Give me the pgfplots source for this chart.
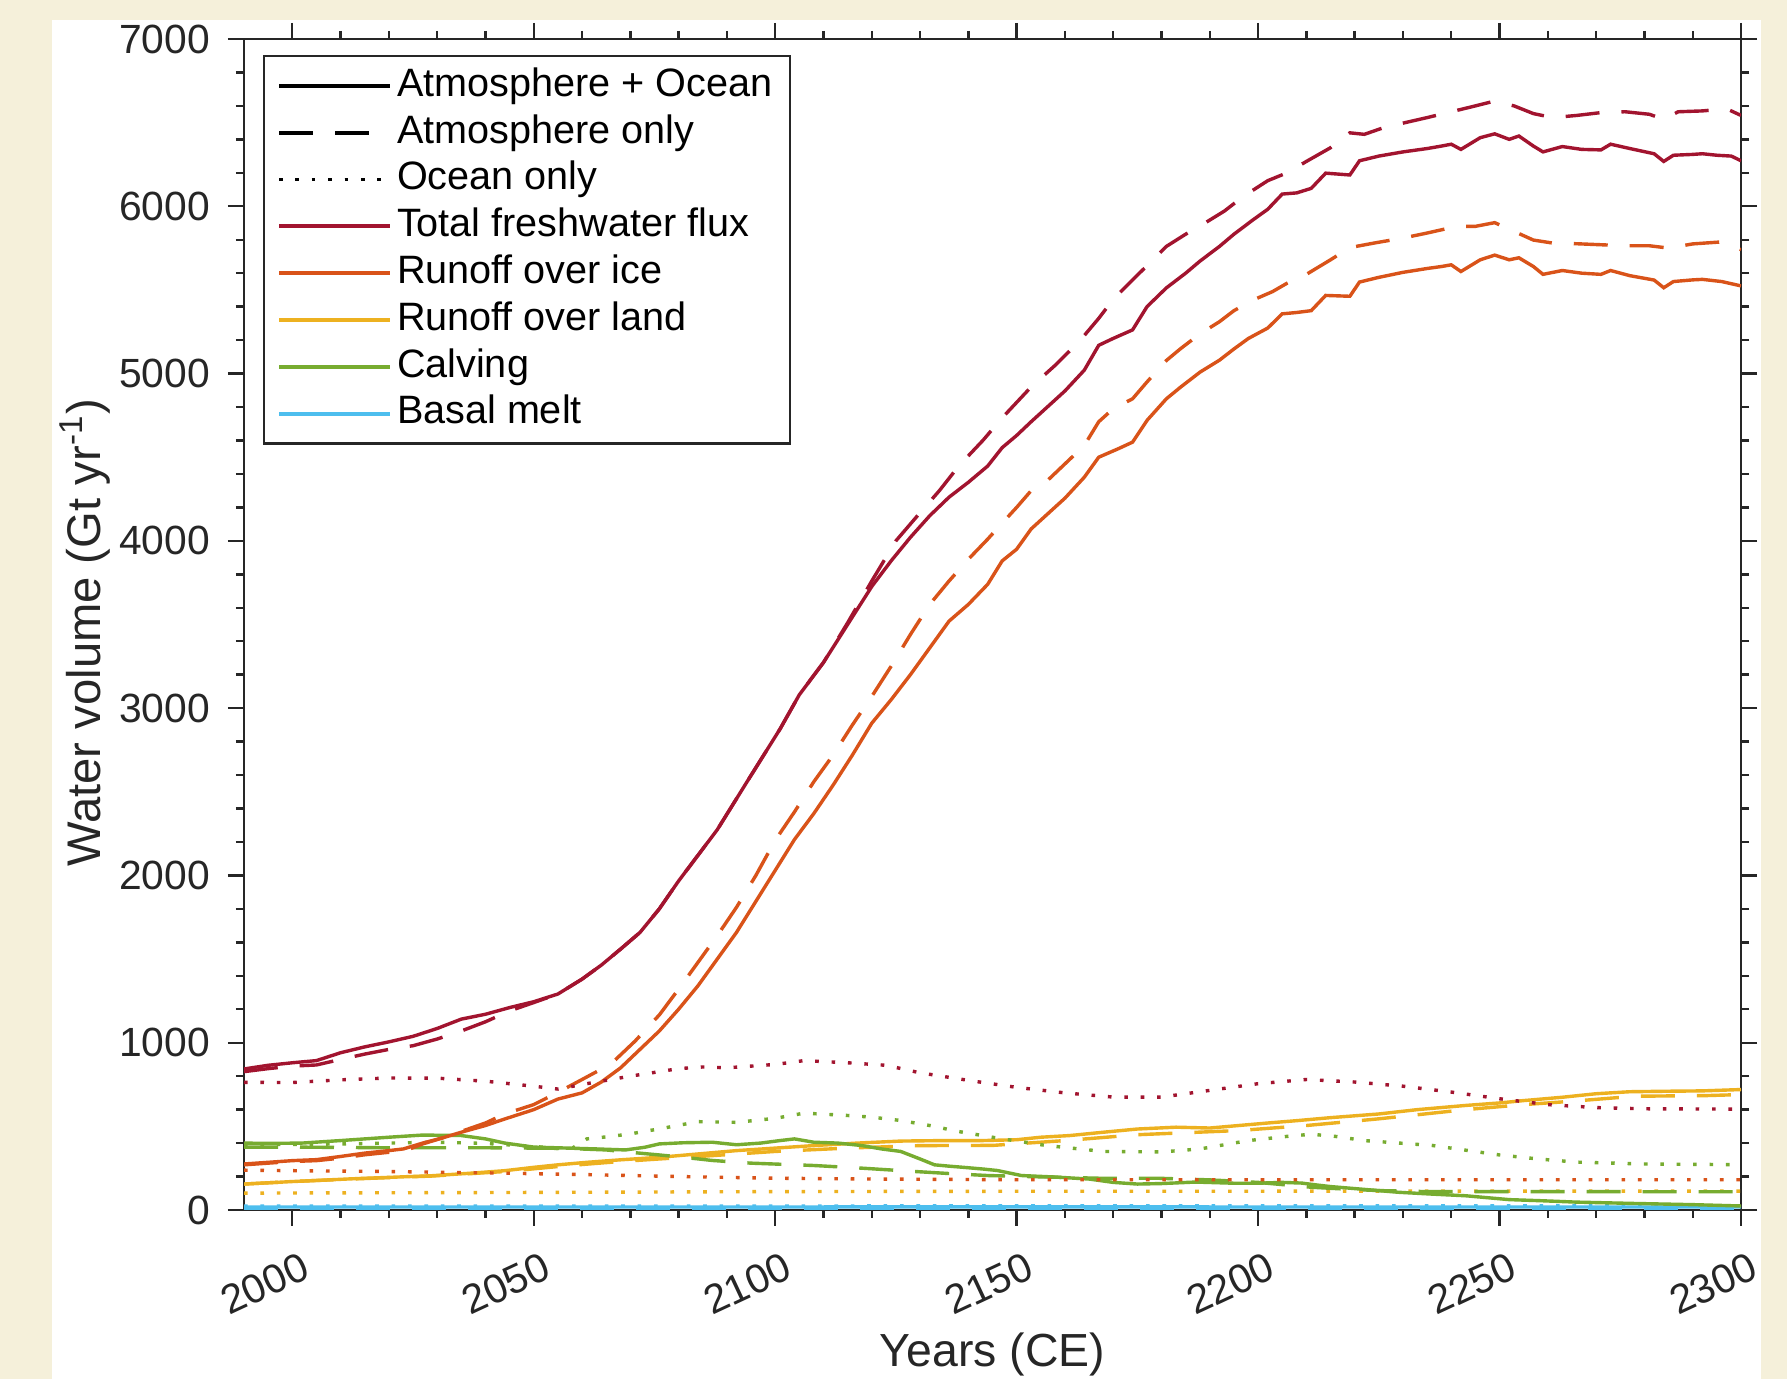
\documentclass[border=0pt]{standalone}
\usepackage{pgfplots}
\pgfplotsset{compat=1.18}
\usepackage{fontspec}
\setmainfont{Liberation Sans}
\definecolor{cream}{RGB}{245,240,218}
\definecolor{axgray}{RGB}{38,38,38}
\definecolor{cTot}{RGB}{162,20,47}
\definecolor{cIce}{RGB}{217,83,25}
\definecolor{cLand}{RGB}{237,177,32}
\definecolor{cCalv}{RGB}{119,172,48}
\definecolor{cBas}{RGB}{77,190,238}
\begin{document}
\begin{tikzpicture}
\fill[cream] (0,0) rectangle (446.75pt,344.75pt);
\fill[white] (13pt,0) rectangle (440.25pt,339.75pt);
\begin{axis}[
  at={(61pt,42.25pt)}, anchor=south west,
  width=374.25pt, height=292.75pt, scale only axis,
  xmin=1990, xmax=2300, ymin=0, ymax=7000,
  xtick={2000,2050,...,2300}, ytick={0,1000,...,7000},
  minor x tick num=4, minor y tick num=4,
  tick align=outside, major tick length=4pt, minor tick length=2pt,
  axis line style={axgray, line width=0.6pt},
  every tick/.style={axgray, line width=0.6pt},
  /pgf/number format/set thousands separator={},
  /pgf/number format/assume math mode=true,
  ticklabel style={font=\fontsize{10.2}{11}\selectfont, text=axgray},
  xticklabel style={rotate=25, anchor=north east, xshift=2.5pt, yshift=-3pt},
  yticklabel style={xshift=-1pt},
  xlabel={Years (CE)}, ylabel={Water volume (Gt yr\textsuperscript{-1})},
  every axis x label/.style={at={(axis description cs:0.5,-0.123)}, anchor=center,
    font=\fontsize{11.6}{13}\selectfont, text=axgray},
  every axis y label/.style={at={(axis description cs:-0.1062,0.493)}, rotate=90, anchor=center,
    font=\fontsize{11.8}{13}\selectfont, text=axgray},
  legend cell align=left,
  legend image code/.code={\draw[#1] (0pt,0pt) -- (26.5pt,0pt); \path (0pt,0pt) -- (27.8pt,0pt);},
  legend style={at={(0.0127,0.9863)}, anchor=north west, draw=axgray, line width=0.6pt,
    font=\fontsize{9.9}{11}\selectfont, inner xsep=3.2pt, inner ysep=1.6pt, row sep=0pt,
    nodes={inner sep=1.2pt, text height=7.2pt, text depth=2.1pt}},
  every axis plot/.append style={line width=0.85pt},
]
\addlegendimage{black, solid, line width=0.85pt}
\addlegendentry{Atmosphere + Ocean}
\addlegendimage{black, dash pattern=on 8.5pt off 5.5pt, line width=0.85pt}
\addlegendentry{Atmosphere only}
\addlegendimage{black, dash pattern=on 0.9pt off 3.2pt, line width=0.85pt}
\addlegendentry{Ocean only}
\addlegendimage{cTot, solid, line width=1pt}
\addlegendentry{Total freshwater flux}
\addlegendimage{cIce, solid, line width=1pt}
\addlegendentry{Runoff over ice}
\addlegendimage{cLand, solid, line width=1pt}
\addlegendentry{Runoff over land}
\addlegendimage{cCalv, solid, line width=1pt}
\addlegendentry{Calving}
\addlegendimage{cBas, solid, line width=1pt}
\addlegendentry{Basal melt}

% Basal melt
\addplot[cBas, forget plot] coordinates {(1990,18) (2050,18) (2100,18) (2150,19) (2200,18) (2250,18) (2300,18)};
\addplot[cBas, forget plot, dash pattern=on 8.5pt off 5.5pt] coordinates {(1990,8) (2100,8) (2200,8) (2300,8)};
\addplot[cBas, forget plot, dash pattern=on 0.9pt off 3.2pt] coordinates {(1990,24) (2100,24) (2200,25) (2300,24)};

% Runoff over land
\addplot[cLand, forget plot, dash pattern=on 0.9pt off 3.2pt] coordinates {(1990,101) (2050,105) (2100,110) (2150,112) (2300,113)};
\addplot[cLand, forget plot, dash pattern=on 8.5pt off 5.5pt] coordinates {
(1990,155) (2000,170) (2012,185) (2029,203) (2044,230) (2057,265) (2068,290) (2076,305) (2087,325) (2100,350) (2115,370) (2130,385) (2145,386) (2160,415) (2175,450) (2196,475) (2210,505) (2225,545) (2243,600) (2255,630) (2265,650) (2278,680) (2293,684) (2300,690)};
\addplot[cLand, forget plot] coordinates {
(1990,155) (2000,170) (2012,186) (2020,195) (2029,205) (2037,220) (2044,235) (2050,255) (2055,270) (2061,285) (2068,300) (2076,315) (2084,335) (2092,355) (2100,370) (2108,385) (2117,400) (2126,412) (2135,415) (2143,415) (2150,420) (2155,435) (2161,445) (2168,465) (2175,484) (2183,495) (2190,490) (2196,505) (2202,520) (2208,534) (2215,552) (2225,574) (2233,600) (2243,625) (2250,640) (2255,654) (2263,674) (2270,695) (2277,707) (2285,710) (2292,712) (2300,720)};

% Calving
\addplot[cCalv, forget plot, dash pattern=on 0.9pt off 3.2pt] coordinates {
(1990,392) (2000,392) (2010,395) (2020,400) (2030,405) (2040,398) (2050,380) (2055,368) (2058,370) (2061,425) (2066,440) (2070,455) (2077,490) (2084,528) (2092,524) (2100,548) (2106,579) (2115,565) (2120,555) (2126,535) (2132,505) (2138,469) (2146,430) (2156,386) (2168,350) (2180,347) (2188,365) (2198,415) (2206,440) (2211,453) (2216,440) (2222,415) (2236,386) (2250,329) (2258,305) (2266,286) (2280,275) (2300,271)};
\addplot[cCalv, forget plot, dash pattern=on 8.5pt off 5.5pt] coordinates {
(1990,376) (2000,376) (2010,374) (2020,372) (2030,372) (2040,372) (2050,370) (2057,368) (2065,359) (2070,345) (2076,329) (2081,315) (2087,296) (2095,280) (2108,266) (2118,250) (2129,230) (2136,218) (2144,206) (2155,198) (2167,190) (2179,190) (2190,180) (2200,165) (2211,136) (2218,125) (2225,116) (2235,110) (2300,109)};
\addplot[cCalv, forget plot] coordinates {
(1990,400) (1995,398) (2002,400) (2010,415) (2020,435) (2027,448) (2035,445) (2040,425) (2044,400) (2050,376) (2057,370) (2063,365) (2069,359) (2073,375) (2076,395) (2081,402) (2087,405) (2092,390) (2097,400) (2101,415) (2104,425) (2108,405) (2113,400) (2118,385) (2122,365) (2126,350) (2130,305) (2133,270) (2136,262) (2139,255) (2143,245) (2146,236) (2151,206) (2158,197) (2165,185) (2170,165) (2175,155) (2180,158) (2187,167) (2195,160) (2200,160) (2205,165) (2209,161) (2212,150) (2215,140) (2220,128) (2229,106) (2236,95) (2243,85) (2252,62) (2259,55) (2266,47) (2278,39) (2290,32) (2300,24)};

% Runoff over ice
\addplot[cIce, forget plot, dash pattern=on 0.9pt off 3.2pt] coordinates {
(1990,238) (2000,235) (2020,230) (2040,222) (2060,212) (2080,200) (2100,190) (2120,185) (2150,181) (2200,181) (2250,181) (2300,181)};
\addplot[cIce, forget plot, dash pattern=on 8.5pt off 5.5pt] coordinates {
(1990,270) (1995,280) (2000,290) (2005,295) (2010,310) (2015,330) (2020,345) (2023,350) (2027,395) (2031,430) (2035,470) (2040,520) (2044,574) (2050,630) (2055,703) (2060,780) (2066,873) (2071,1010) (2076,1166) (2080,1320) (2084,1480) (2088,1640) (2092,1810) (2096,2000) (2100,2210) (2104,2380) (2108,2560) (2112,2720) (2116,2900) (2120,3070) (2124,3250) (2128,3440) (2132,3620) (2136,3760) (2140,3890) (2144,4010) (2147,4106) (2150,4200) (2153,4300) (2156,4350) (2160,4460) (2164,4570) (2167,4712) (2170,4790) (2174,4849) (2177,4950) (2181,5078) (2184,5150) (2188,5238) (2192,5310) (2195,5376) (2199,5440) (2203,5490) (2206,5540) (2210,5593) (2215,5680) (2219,5753) (2224,5780) (2230,5810) (2235,5840) (2241,5879) (2245,5880) (2249,5902) (2253,5850) (2257,5798) (2261,5780) (2266,5776) (2271,5770) (2276,5764) (2281,5764) (2285,5750) (2290,5775) (2296,5787) (2300,5741)};
\addplot[cIce, forget plot] coordinates {
(1990,275) (1995,285) (2000,295) (2005,301) (2010,320) (2015,340) (2020,355) (2023,365) (2027,400) (2031,430) (2035,465) (2040,505) (2044,544) (2050,600) (2055,663) (2060,700) (2064,765) (2068,850) (2072,960) (2076,1070) (2080,1200) (2084,1340) (2088,1500) (2092,1660) (2096,1845) (2100,2030) (2104,2215) (2108,2370) (2112,2540) (2116,2720) (2120,2910) (2124,3050) (2128,3200) (2132,3360) (2136,3520) (2140,3620) (2144,3740) (2147,3880) (2150,3950) (2153,4071) (2156,4150) (2160,4255) (2164,4380) (2167,4500) (2171,4550) (2174,4590) (2177,4720) (2181,4849) (2184,4920) (2188,5009) (2192,5080) (2195,5147) (2198,5210) (2202,5272) (2205,5357) (2208,5365) (2211,5376) (2214,5467) (2219,5462) (2221,5547) (2225,5575) (2230,5605) (2235,5628) (2238,5640) (2240,5650) (2242,5610) (2246,5680) (2249,5708) (2252,5680) (2254,5692) (2257,5640) (2259,5593) (2263,5616) (2267,5600) (2271,5593) (2273,5616) (2277,5585) (2282,5559) (2284,5513) (2286,5550) (2290,5560) (2292,5563) (2296,5550) (2300,5524)};

% Total freshwater flux
\addplot[cTot, forget plot, dash pattern=on 0.9pt off 3.2pt] coordinates {
(1990,763) (2000,762) (2010,778) (2020,789) (2030,788) (2040,770) (2050,740) (2055,723) (2060,750) (2070,800) (2080,845) (2085,855) (2090,850) (2100,870) (2106,893) (2115,880) (2123,865) (2130,820) (2140,775) (2150,733) (2160,700) (2170,675) (2180,675) (2190,715) (2200,755) (2210,780) (2220,765) (2230,740) (2240,705) (2250,665) (2260,630) (2270,612) (2280,605) (2300,603)};
\addplot[cTot, forget plot, dash pattern=on 8.5pt off 5.5pt] coordinates {
(1990,827) (1995,845) (2000,860) (2005,867) (2010,900) (2015,932) (2020,960) (2025,982) (2030,1022) (2035,1070) (2040,1125) (2045,1190) (2050,1240) (2055,1291) (2060,1380) (2064,1464) (2068,1560) (2072,1659) (2076,1800) (2080,1967) (2084,2120) (2088,2273) (2094,2552) (2101,2875) (2105,3080) (2110,3273) (2115,3510) (2120,3760) (2125,4000) (2130,4168) (2134,4300) (2138,4447) (2143,4600) (2147,4735) (2153,4920) (2158,5050) (2163,5193) (2167,5330) (2170,5444) (2174,5560) (2178,5673) (2181,5760) (2185,5833) (2189,5900) (2193,5971) (2197,6060) (2202,6153) (2206,6200) (2210,6268) (2215,6350) (2219,6439) (2222,6430) (2226,6470) (2230,6497) (2235,6530) (2240,6565) (2245,6600) (2249,6629) (2253,6600) (2257,6554) (2261,6530) (2266,6543) (2271,6560) (2276,6565) (2281,6550) (2284,6520) (2287,6565) (2292,6570) (2297,6583) (2300,6543)};
\addplot[cTot, forget plot] coordinates {
(1990,843) (1995,865) (2000,880) (2005,893) (2010,940) (2015,975) (2020,1005) (2025,1038) (2030,1085) (2035,1141) (2040,1170) (2045,1210) (2050,1245) (2055,1291) (2060,1380) (2064,1464) (2068,1560) (2072,1659) (2076,1800) (2080,1967) (2084,2120) (2088,2273) (2094,2552) (2101,2875) (2105,3080) (2110,3273) (2115,3500) (2120,3727) (2124,3880) (2128,4021) (2132,4150) (2136,4261) (2140,4350) (2144,4447) (2147,4557) (2150,4630) (2153,4712) (2160,4896) (2164,5020) (2167,5169) (2170,5210) (2174,5261) (2177,5400) (2181,5512) (2185,5600) (2188,5673) (2192,5760) (2195,5833) (2199,5920) (2202,5982) (2205,6073) (2208,6080) (2211,6107) (2214,6198) (2219,6187) (2221,6272) (2225,6300) (2230,6325) (2235,6345) (2238,6360) (2240,6371) (2242,6340) (2246,6410) (2249,6433) (2252,6400) (2254,6420) (2257,6360) (2259,6325) (2263,6357) (2267,6340) (2271,6337) (2273,6371) (2277,6345) (2282,6314) (2284,6268) (2286,6305) (2290,6310) (2292,6314) (2295,6305) (2298,6300) (2300,6272)};
\end{axis}
\pgfresetboundingbox
\path[use as bounding box] (0,0) rectangle (446.75pt,344.75pt);
\end{tikzpicture}
\end{document}
